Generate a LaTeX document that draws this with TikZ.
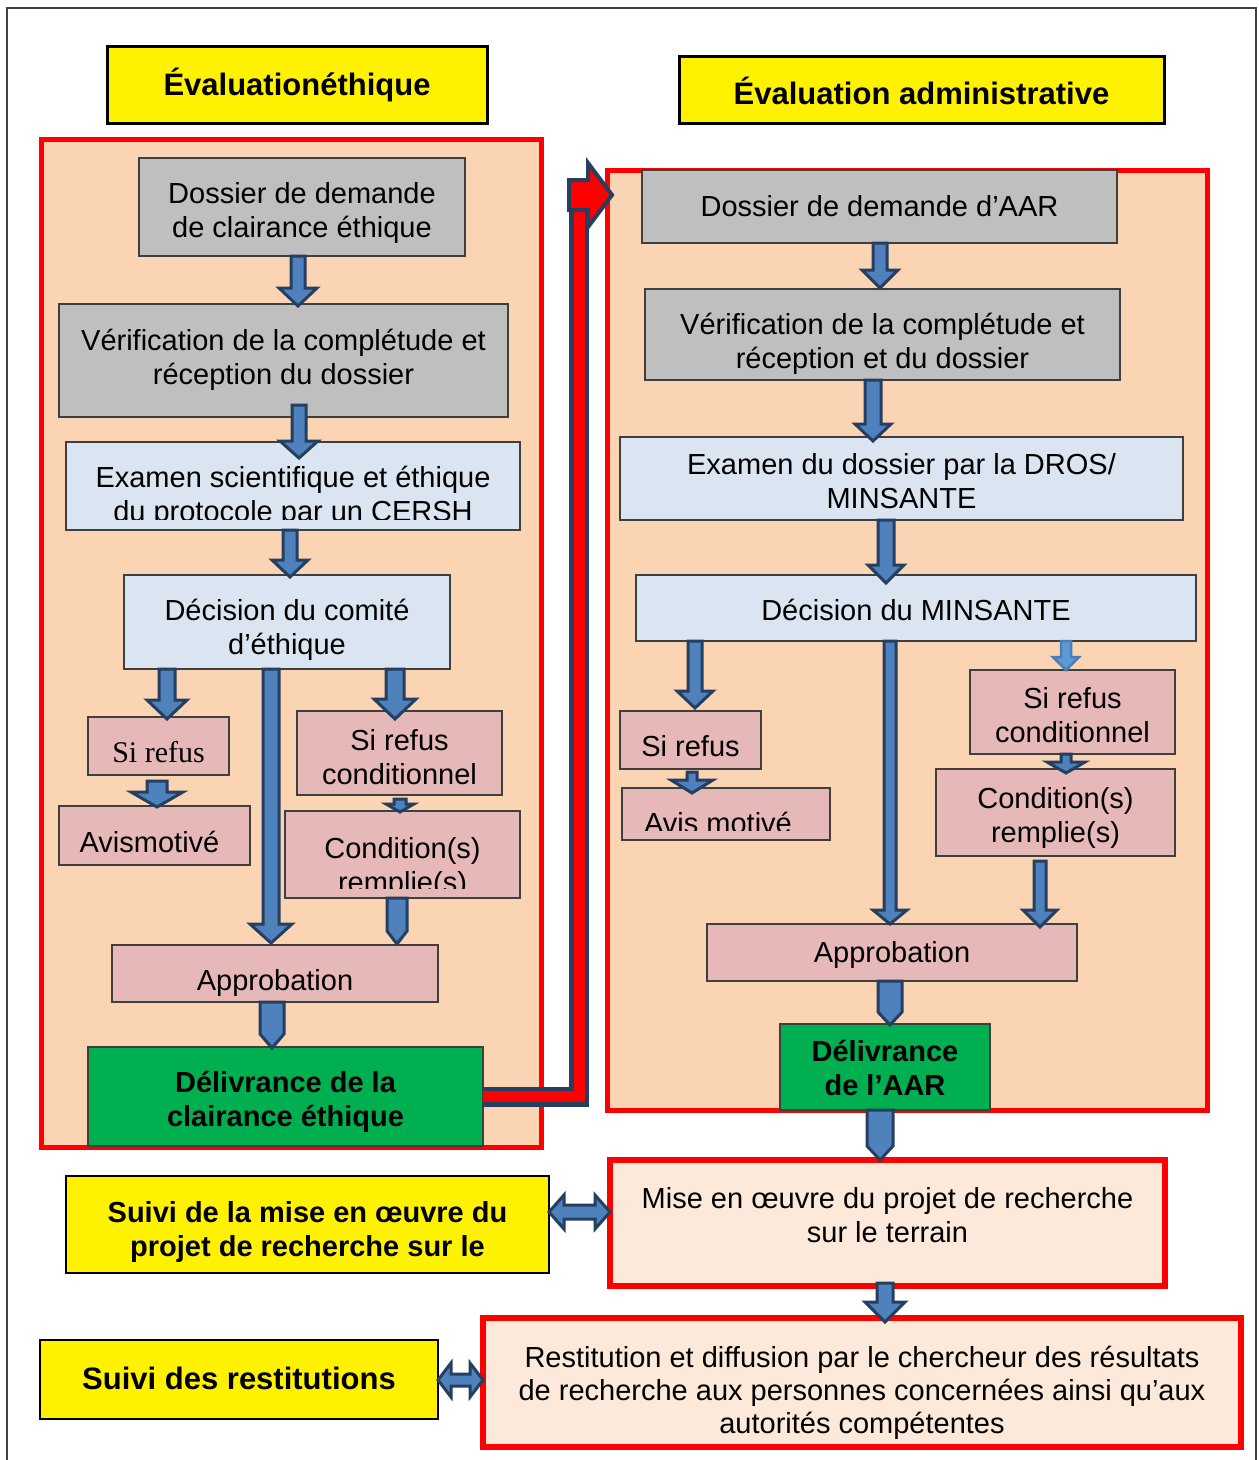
\documentclass[tikz,border=0pt]{standalone}
\usepackage{fontspec}
\setmainfont{Liberation Sans}
\newfontfamily\serifont{Liberation Serif}
\usetikzlibrary{calc}
\definecolor{peach}{HTML}{FBD4B4}
\definecolor{lpeach}{HTML}{FDE9D9}
\definecolor{boxgray}{HTML}{BFBFBF}
\definecolor{lblue}{HTML}{DBE5F1}
\definecolor{pinkbox}{HTML}{E6B9B8}
\definecolor{dgreen}{HTML}{00B050}
\definecolor{afill}{HTML}{4F81BD}
\definecolor{aline}{HTML}{243F60}
\definecolor{afilltwo}{HTML}{5B9BD5}
\definecolor{alinetwo}{HTML}{4A7EBB}
\definecolor{edgec}{HTML}{3F3F3F}
\definecolor{pred}{HTML}{FF0000}
\definecolor{frame}{HTML}{404040}

% box with separate text node: name, box style, x1, y1, x2, y2, text dy, text, text style
\newcommand\mybox[9]{%
  \node[#2, anchor=north west, minimum width=#5-#3, minimum height=#6-#4] (#1) at (#3,#4) {};
  \node[#9] (#1t) at ([yshift=#7]#1.center) {#8};}
% vertical block arrow: [opts] from, to, x, shaft half, head half, head length
\newcommand\vblk[7][]{%
  \draw[blk,#1] let \p1=(#2), \p2=(#3) in
    (#4pt-#5pt,\y1) -- (#4pt+#5pt,\y1) -- (#4pt+#5pt,\y2+#7pt) -- (#4pt+#6pt,\y2+#7pt)
    -- (#4pt,\y2) -- (#4pt-#6pt,\y2+#7pt) -- (#4pt-#5pt,\y2+#7pt) -- cycle;}
% horizontal double block arrow: [opts] left, right, y(px), shaft half, head half, head length
\newcommand\hblk[7][]{%
  \draw[blk,#1] let \p1=(#2), \p2=(#3) in
    (\x1,-#4pt) -- (\x1+#7pt,-#4pt+#6pt) -- (\x1+#7pt,-#4pt+#5pt) -- (\x2-#7pt,-#4pt+#5pt)
    -- (\x2-#7pt,-#4pt+#6pt) -- (\x2,-#4pt) -- (\x2-#7pt,-#4pt-#6pt) -- (\x2-#7pt,-#4pt-#5pt)
    -- (\x1+#7pt,-#4pt-#5pt) -- (\x1+#7pt,-#4pt-#6pt) -- cycle;}

\begin{document}
\begin{tikzpicture}[x=1pt,y=-1pt,
  every node/.style={outer sep=0pt, inner sep=0pt},
  base/.style={draw=edgec, line width=1.5},
  gbox/.style={base, fill=boxgray},
  lbox/.style={base, fill=lblue},
  pbox/.style={base, fill=pinkbox},
  grbox/.style={base, fill=dgreen},
  ybox/.style={draw=black, line width=3, fill=yellow},
  ybtwo/.style={draw=black, line width=1.5, fill=yellow},
  panel/.style={draw=pred, line width=5, fill=peach},
  mbox/.style={draw=pred, line width=6, fill=lpeach},
  tx/.style={align=center, font=\fontsize{29}{34}\selectfont},
  txb/.style={align=center, font=\fontsize{29}{34}\selectfont\bfseries},
  txh/.style={align=center, font=\fontsize{31}{36}\selectfont\bfseries},
  txs/.style={align=center, font=\serifont\fontsize{30}{34}\selectfont},
  blk/.style={fill=afill, draw=aline, line width=3, line join=miter},
  blklight/.style={fill=afilltwo, draw=alinetwo, line width=2.5},
]
\useasboundingbox (0,0) rectangle (1259,1460);
\fill[white] (0,0) rectangle (1259,1460);
\draw[frame, line width=2] (7,1462) -- (7,8) -- (1256,8) -- (1256,1462);

% headers
\mybox{h1}{ybox}{107}{46}{487}{123}{0}{Évaluationéthique}{txh}
\mybox{h2}{ybox}{679}{56}{1164}{123}{-1}{Évaluation administrative}{txh}

% panels
\node[panel, anchor=north west, minimum width=500, minimum height=1008] (lp) at (41,139) {};
\node[panel, anchor=north west, minimum width=600, minimum height=940] (rp) at (607,170) {};

% left column
\mybox{b1}{gbox}{139}{158}{465}{256}{-6}{Dossier de demande\\de clairance éthique}{tx}
\mybox{b2}{gbox}{59}{304}{508}{417}{1}{Vérification de la complétude et\\réception du dossier}{tx}
\node[lbox, anchor=north west, minimum width=454, minimum height=88] (b3) at (66,442) {};
\begin{scope}
\clip (66,442) rectangle (520,519);
\node[tx] (b3t) at ([yshift=-10.5]b3.center) {Examen scientifique et éthique\\du protocole par un CERSH};
\end{scope}
\mybox{b4}{lbox}{124}{575}{450}{669}{-8}{Décision du comité\\d’éthique}{tx}
\mybox{sr1}{pbox}{88}{717}{229}{775}{-6}{Si refus}{txs}
\mybox{am1}{pbox}{59}{806}{250}{865}{-6}{\hspace*{-10pt}Avismotivé}{tx}
\mybox{rc1}{pbox}{297}{711}{502}{795}{-4}{Si refus\\conditionnel}{tx}
\node[pbox, anchor=north west, minimum width=235, minimum height=87] (cd1) at (285,811) {};
\begin{scope}
\clip (285,811) rectangle (520,888);
\node[tx] (cd1t) at ([yshift=-13]cd1.center) {Condition(s)\\remplie(s)};
\end{scope}
\mybox{ap1}{pbox}{112}{945}{438}{1002}{-9}{Approbation}{tx}
\mybox{g1}{grbox}{88}{1047}{483}{1146}{-5}{Délivrance de la\\clairance éthique}{txb}

% right column
\mybox{r1}{gbox}{642}{170}{1117}{243}{0}{Dossier de demande d’AAR}{tx}
\mybox{r2}{gbox}{645}{289}{1120}{380}{-9}{Vérification de la complétude et\\réception et du dossier}{tx}
\mybox{r3}{lbox}{620}{437}{1183}{520}{-3}{Examen du dossier par la DROS/\\MINSANTE}{tx}
\mybox{r4}{lbox}{636}{575}{1196}{641}{-2}{Décision du MINSANTE}{tx}
\mybox{sr2}{pbox}{620}{711}{761}{769}{-6}{Si refus}{tx}
\node[pbox, anchor=north west, minimum width=208, minimum height=52] (am2) at (622,788) {};
\begin{scope}
\clip (622,788) rectangle (830,830);
\node[tx] (am2t) at ([yshift=-9,xshift=-8]am2.center) {Avis motivé};
\end{scope}
\mybox{rc2}{pbox}{970}{670}{1175}{754}{-3}{Si refus\\conditionnel}{tx}
\mybox{cd2}{pbox}{936}{769}{1175}{856}{-5}{Condition(s)\\remplie(s)}{tx}
\mybox{ap2}{pbox}{707}{924}{1077}{981}{-2}{Approbation}{tx}
\mybox{g2}{grbox}{780}{1024}{990}{1110}{-1}{Délivrance\\de l’AAR}{txb}

% bottom
\mybox{s1}{ybtwo}{66}{1176}{549}{1273}{-7}{Suivi de la mise en œuvre du\\projet de recherche sur le}{txb}
\mybox{mo}{mbox}{610}{1160}{1165}{1286}{8}{Mise en œuvre du projet de recherche\\sur le terrain}{tx}
\mybox{s2}{ybtwo}{40}{1340}{438}{1419}{1}{Suivi des restitutions}{txb,font=\fontsize{31}{36}\selectfont\bfseries}
\mybox{rs}{mbox}{483}{1318}{1241}{1447}{-10}{Restitution et diffusion par le chercheur des résultats\\de recherche aux personnes concernées ainsi qu’aux\\autorités compétentes}{tx,font=\fontsize{29}{33}\selectfont}

% red connector from ethical clearance to administrative evaluation
\coordinate (tip) at (612,195);
\draw[aline, line width=20, line join=miter] (g1.east) -| (579,212);
\draw[pred, line width=11, line join=miter] (g1.east) -| (579,212);
\draw[fill=pred, draw=aline, line width=4, line join=miter]
  (569,180) -- (588,180) -- (588,163) -- (tip) -- (588,227) -- (588,210) -- (569,210) -- cycle;

% left arrows
\vblk{b1.south}{[yshift=-2]b2.north}{298}{7}{19}{18}
\vblk{[yshift=12]b2.south}{[yshift=-16]b3.north}{299}{7}{19}{17}
\vblk{b3.south}{[yshift=-2]b4.north}{290}{7}{18}{17}
\vblk{b4.south}{[yshift=-2]sr1.north}{167}{8}{20}{19}
\vblk{[yshift=-6]sr1.south}{[yshift=-1]am1.north}{157}{10}{26}{15}
\vblk{b4.south}{[yshift=-8]rc1.north}{395}{9}{21}{20}
\vblk{[yshift=-4]rc1.south}{[yshift=-1]cd1.north}{400}{6}{14}{8}
\vblk{b4.south}{[yshift=2]ap1.north}{271}{8}{21}{19}
\vblk{cd1.south}{[yshift=1]ap1.north}{397}{10}{10}{13}
\vblk{ap1.south}{[yshift=-1]g1.north}{272}{12}{12}{14}

% right arrows
\vblk{r1.south}{[yshift=1]r2.north}{880}{7}{18}{18}
\vblk{r2.south}{[yshift=-4]r3.north}{873}{8}{18}{17}
\vblk{r3.south}{[yshift=-8]r4.north}{886}{8}{18}{18}
\vblk{r4.south}{[yshift=3]sr2.north}{695}{7}{18}{17}
\vblk{[yshift=-3]sr2.south}{[yshift=-5]am2.north}{692}{5}{21}{13}
\vblk{r4.south}{ap2.north}{890}{6}{17}{14}
\vblk[blklight]{r4.south}{rc2.north}{1066}{5}{13}{13}
\vblk{rc2.south}{[yshift=-4]cd2.north}{1066}{5}{19}{11}
\vblk{[yshift=-5]cd2.south}{[yshift=-3]ap2.north}{1040}{6}{17}{17}
\vblk{ap2.south}{[yshift=-1]g2.north}{890}{12}{12}{13}
\vblk{g2.south}{mo.north}{880}{13}{13}{14}
\vblk{[yshift=3]mo.south}{[yshift=-4]rs.north}{885}{8}{20}{20}

% double arrows
\hblk{s1.east}{mo.west}{1212}{7}{17}{15}
\hblk{s2.east}{rs.west}{1380}{6}{17}{13}
\end{tikzpicture}
\end{document}
